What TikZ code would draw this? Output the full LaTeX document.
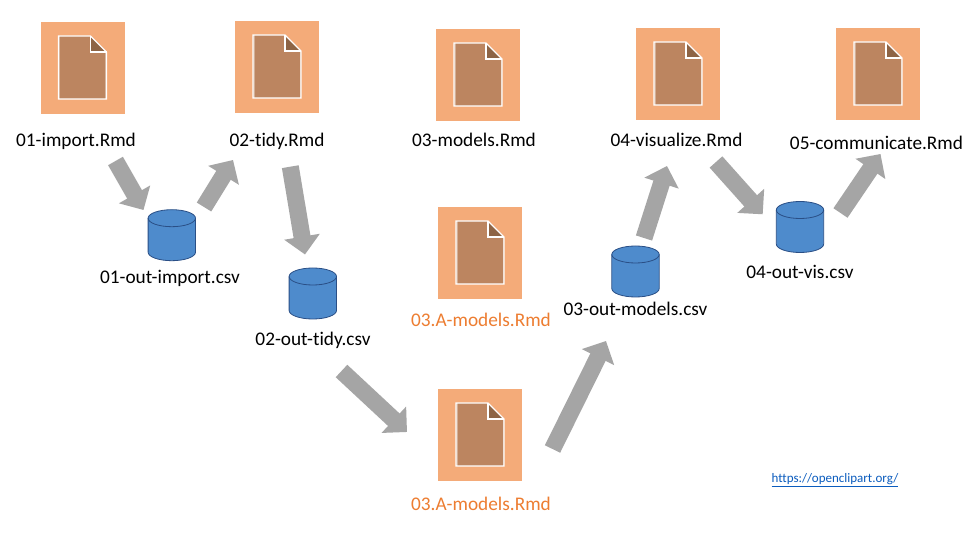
\documentclass[tikz,border=0pt]{standalone}
\usepackage{fontspec}
\setmainfont{Carlito}[Ligatures=NoCommon]
\usetikzlibrary{arrows.meta}
\definecolor{boxorange}{HTML}{F4AB79}
\definecolor{docbrown}{HTML}{BC8560}
\definecolor{folddark}{HTML}{8E6445}
\definecolor{cylblue}{HTML}{4E8BCC}
\definecolor{cyledge}{HTML}{2A4F86}
\definecolor{flowgray}{HTML}{A5A5A5}
\definecolor{labelorange}{HTML}{ED7D31}
\definecolor{linkblue}{HTML}{0B5CBE}
\tikzset{
  x=1pt,y=-1pt,
  docbox/.style={fill=boxorange,draw=none,minimum width=84pt,minimum height=92pt,inner sep=0pt,outer sep=0pt},
  storebox/.style={draw=none,minimum width=47.5pt,minimum height=51pt,inner sep=0pt,outer sep=0pt},
  lbl/.style={font=\fontsize{19.3}{21}\selectfont,text=black,inner sep=0pt,anchor=base},
  olbl/.style={lbl,text=labelorange},
  flow/.style={draw=flowgray,line width=17pt,-{Triangle[length=18pt,width=35pt,fill=flowgray]}},
}
\newcommand{\docicon}[1]{%
  \begin{scope}[shift={(#1)}]
    \fill[docbrown] (-24,-32) -- (8,-32) -- (24,-16) -- (24,31) -- (-24,31) -- cycle;
    \fill[white,opacity=0.35] (-24,-32) rectangle (-22.5,31);
    \fill[white,opacity=0.35] (22.5,-16) rectangle (24,31);
    \fill[folddark] (8,-32) -- (24,-16) -- (8,-16) -- cycle;
    \draw[white,line width=1.15pt] (-24,-32) -- (8,-32) -- (24,-16) -- (24,31) -- (-24,31) -- cycle;
    \draw[white,line width=1.15pt] (8,-32) -- (8,-16) -- (24,-16);
  \end{scope}}
\newcommand{\storeicon}[1]{%
  \begin{scope}[shift={(#1)}]
    \draw[cyledge,fill=cylblue,line width=0.8pt]
      (-23.7,-17) -- (-23.7,17)
      .. controls (-23.7,21.7) and (-13.1,25.5) .. (0,25.5)
      .. controls (13.1,25.5) and (23.7,21.7) .. (23.7,17)
      -- (23.7,-17)
      .. controls (23.7,-21.7) and (13.1,-25.5) .. (0,-25.5)
      .. controls (-13.1,-25.5) and (-23.7,-21.7) .. (-23.7,-17) -- cycle;
    \draw[cyledge,line width=0.8pt]
      (-23.7,-17) .. controls (-23.7,-12.3) and (-13.1,-8.5) .. (0,-8.5)
      .. controls (13.1,-8.5) and (23.7,-12.3) .. (23.7,-17);
  \end{scope}}
\begin{document}
\begin{tikzpicture}
\useasboundingbox (0,0) rectangle (975,534);
\fill[white] (0,0) rectangle (975,534);
% documents
\node[docbox] (d1) at (82.5,68) {};   \docicon{82.5,68}
\node[docbox] (d2) at (277,67) {};    \docicon{277,67}
\node[docbox] (d3) at (478,75) {};    \docicon{478,75}
\node[docbox] (d4) at (678,74) {};    \docicon{678,74}
\node[docbox] (d5) at (878,74) {};    \docicon{878,74}
\node[docbox] (d6) at (480,253) {};   \docicon{480,253}
\node[docbox] (d7) at (480,435) {};   \docicon{480,435}
% labels
\node[lbl] (l1) at (76,147) {01-import.Rmd};
\node[lbl] (l2) at (277,147) {02-tidy.Rmd};
\node[lbl] (l3) at (474,147) {03-models.Rmd};
\node[lbl] (l4) at (676.5,147) {04-visualize.Rmd};
\node[lbl] (l5) at (876.5,150) {05-communicate.Rmd};
\node[olbl] (l6) at (481,327) {03.A-models.Rmd};
\node[olbl] (l7) at (481,510) {03.A-models.Rmd};
% stores
\node[storebox] (c1) at (171.8,235.2) {}; \storeicon{171.8,235.2}
\node[storebox] (c2) at (312.8,293.5) {}; \storeicon{312.8,293.5}
\node[storebox] (c3) at (635.5,271.5) {}; \storeicon{635.5,271.5}
\node[storebox] (c4) at (800,227) {};     \storeicon{800,227}
\node[lbl] (s1) at (170,284) {01-out-import.csv};
\node[lbl] (s2) at (313,346) {02-out-tidy.csv};
\node[lbl] (s3) at (635.5,316) {03-out-models.csv};
\node[lbl] (s4) at (800,279) {04-out-vis.csv};
% flow ends
\coordinate (a1s) at (115.5,161); \coordinate (a1e) at (143.5,210);
\coordinate (a2s) at (204,207);   \coordinate (a2e) at (233,160);
\coordinate (a3s) at (290.3,166.7); \coordinate (a3e) at (305,254.5);
\coordinate (a4s) at (341.5,371); \coordinate (a4e) at (407,432);
\coordinate (a5s) at (552.5,449); \coordinate (a5e) at (606,341);
\coordinate (a6s) at (644,238);   \coordinate (a6e) at (667,166);
\coordinate (a7s) at (716,162);   \coordinate (a7e) at (762.7,214.3);
\coordinate (a8s) at (840.5,213); \coordinate (a8e) at (880.5,154);
\draw[flow] (a1s) -- (a1e);
\draw[flow] (a2s) -- (a2e);
\draw[flow] (a3s) -- (a3e);
\draw[flow] (a4s) -- (a4e);
\draw[flow] (a5s) -- (a5e);
\draw[flow] (a6s) -- (a6e);
\draw[flow] (a7s) -- (a7e);
\draw[flow] (a8s) -- (a8e);
\node[font=\fontsize{13}{14}\selectfont,text=linkblue,inner sep=0pt] (url) at (835,480.5) {\underline{https://openclipart.org/}};
\end{tikzpicture}
\end{document}
